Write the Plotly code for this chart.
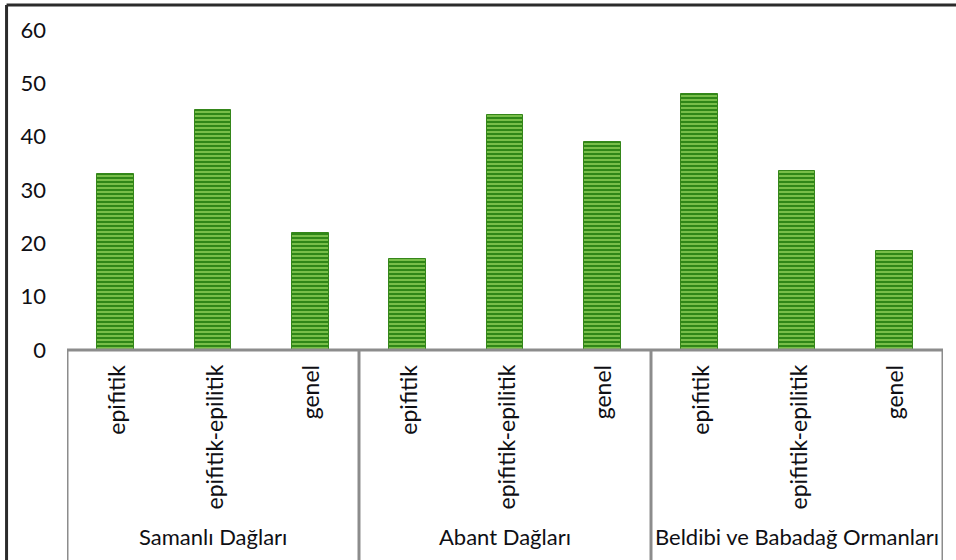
import plotly.graph_objects as go

# Data: lichen counts by habitat type in three study areas
groups = ["Samanlı Dağları", "Abant Dağları", "Beldibi ve Babadağ Ormanları"]
categories = ["epifitik", "epifitik-epilitik", "genel"]
samanli = [33, 45, 22]
abant = [17, 44, 39]
beldibi = [48, 33.5, 18.5]
y_ticks = [0, 10, 20, 30, 40, 50, 60]

values = samanli + abant + beldibi
labels = categories * len(groups)
xpos = list(range(len(values)))

FONT = "Lato"
TEXT = "#0f0f14"
AXIS_GRAY = "#8c8c8c"

fig = go.Figure()
fig.add_trace(go.Bar(
    x=xpos,
    y=values,
    width=0.38,
    marker=dict(
        color="#7fc24d",
        line=dict(color="#35861a", width=1),
        pattern=dict(shape="-", bgcolor="#2f8717", fgcolor="#80c44e",
                     size=4, solidity=0.45, fillmode="replace"),
    ),
    hoverinfo="x+y",
))

annotations = []
# inner category labels (rotated)
for i, lab in enumerate(labels):
    annotations.append(dict(
        x=i, y=0, xref="x", yref="y", text=lab, showarrow=False,
        textangle=-90, xanchor="center", yanchor="top", yshift=-13,
        font=dict(family=FONT, size=23, color=TEXT),
    ))
# group labels
for g, name in enumerate(groups):
    annotations.append(dict(
        x=g * 3 + 1, y=0, xref="x", yref="y", text=name, showarrow=False,
        xanchor="center", yanchor="middle", yshift=-186,
        font=dict(family=FONT, size=22, color=TEXT),
    ))

shapes = []
# group dividers below the axis
for xv in [-0.5, 2.5, 5.5, 8.5]:
    shapes.append(dict(type="line", xref="x", yref="paper", x0=xv, x1=xv,
                       y0=0, y1=-0.7, line=dict(color=AXIS_GRAY, width=3)))
# horizontal category axis line
shapes.append(dict(type="line", xref="x", yref="paper", x0=-0.5, x1=8.5,
                   y0=0, y1=0, line=dict(color=AXIS_GRAY, width=3)))
# outer frame (top and left edges)
shapes.append(dict(type="line", xref="paper", yref="paper", x0=-0.069, x1=1.05,
                   y0=1.078, y1=1.078, line=dict(color="#2b2b2b", width=3)))
shapes.append(dict(type="line", xref="paper", yref="paper", x0=-0.069, x1=-0.069,
                   y0=1.078, y1=-0.7, line=dict(color="#2b2b2b", width=3)))

fig.update_layout(
    width=956, height=560,
    margin=dict(l=67, r=13, t=30, b=210),
    paper_bgcolor="white", plot_bgcolor="white",
    showlegend=False,
    bargap=0,
    font=dict(family=FONT, size=22, color=TEXT),
    xaxis=dict(range=[-0.5, 8.5], showticklabels=False, showgrid=False,
               zeroline=False, showline=False, ticks=""),
    yaxis=dict(range=[0, 60], tickvals=y_ticks, showgrid=False, zeroline=False,
               showline=False, ticks="", ticklabelstandoff=20,
               tickfont=dict(family=FONT, size=22, color=TEXT)),
    annotations=annotations,
    shapes=shapes,
)

fig.write_html("out.html")
